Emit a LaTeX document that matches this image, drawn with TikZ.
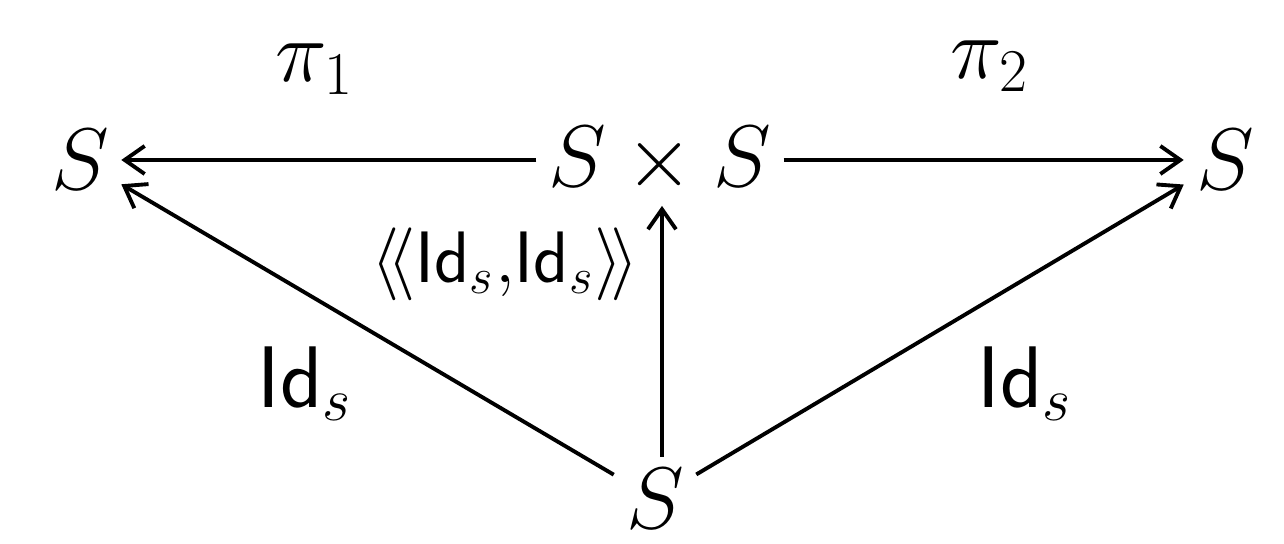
\documentclass[tikz,border=0pt]{standalone}
\usepackage{amsmath,amssymb}
\usepackage{tikz}
\usetikzlibrary{calc,positioning}
\usetikzlibrary{arrows.meta}
\newcommand{\Ids}{\mathsf{Id}_{s}}
\newcommand{\pairid}{\langle\!\langle \mathsf{Id}_{s}{,}\mathsf{Id}_{s}\rangle\!\rangle}

\begin{document}
\begin{tikzpicture}[font=\fontsize{23}{27}\selectfont,
	mapto/.style={-{Straight Barb[length=2mm,width=2.8mm]},line width=1.1pt}]
				 %\draw[color=gray,step=1mm, help lines,opacity=0.3] (0pt,0pt) grid (128.4mm,54.4mm); %help grids
				\useasboundingbox (0,0) rectangle (128.4mm,54.4mm);
				\node (sl) at (8mm,38.4mm) {$S$};
				\node (sxs) at (66mm,38.4mm) {$S\times S$};
				\node (sr) at (122.5mm,38.4mm) {$S$};
				\node (sb) at (65.5mm,4.5mm) {$S$};
				\node (pione) at (31.5mm,47.5mm) {$\pi_1$};
				\node (pitwo) at (99mm,47.8mm) {$\pi_2$};
				\node[font=\fontsize{20}{24}\selectfont] (pair) at (50.5mm,28mm) {$\pairid$};
				\node (idl) at (30.5mm,16mm) {$\Ids$};
				\node (idr) at (102.5mm,16mm) {$\Ids$};
				\coordinate (vb) at ($(sb.north)+(0.7mm,0)$);
				\coordinate (vt) at (vb |- sxs.south);
				\draw[mapto] (sxs) -- (sl);
				\draw[mapto] (sxs) -- (sr);
				\draw[mapto] (vb) -- (vt);
				\draw[mapto] (sb) -- (sl);
				\draw[mapto] (sb) -- (sr);
\end{tikzpicture}
\end{document}
